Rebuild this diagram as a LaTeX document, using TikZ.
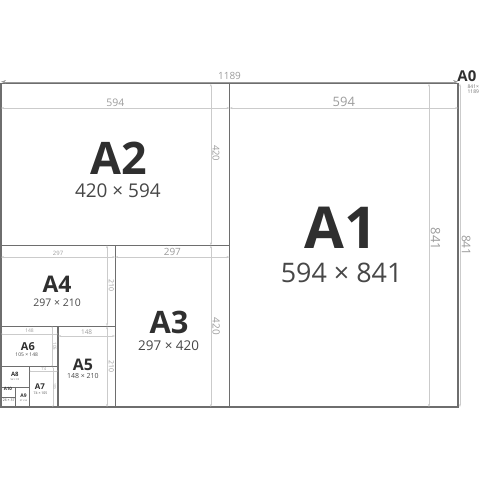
\documentclass[tikz,border=0pt]{standalone}
\usepackage{fontspec}
\setmainfont{Open Sans}
\usetikzlibrary{arrows.meta}

\definecolor{sheetgray}{HTML}{6E6E6E}
\definecolor{dimgray}{HTML}{CBCBCB}
\definecolor{labelgray}{HTML}{9C9C9C}
\definecolor{inkgray}{HTML}{2F2F2F}
\definecolor{sizegray}{HTML}{474747}

\tikzset{
  sheet/.style={draw=sheetgray, line width=1.2pt},
  smallsheet/.style={draw=sheetgray, line width=0.6pt},
  dimline/.style={draw=dimgray, line width=0.45pt, >={Stealth[length=3pt,width=2pt]}},
  smalldim/.style={draw=dimgray, line width=0.3pt, >={Stealth[length=1.5pt,width=1pt]}},
  outerdim/.style={draw=gray!80, line width=0.5pt, >={Stealth[length=5pt,width=3.5pt]}},
  dimlabel/.style={text=labelgray, inner sep=1.5pt, font=\fontsize{#1}{#1}\selectfont},
  sheetname/.style={text=inkgray, inner sep=0pt, font=\bfseries\fontsize{#1}{#1}\selectfont},
  sheetsize/.style={text=sizegray, inner sep=0pt, font=\fontsize{#1}{#1}\selectfont},
}

\begin{document}
\begin{tikzpicture}[x=0.3844bp,y=0.3844bp]
\useasboundingbox (-2.6,-189.9) rectangle (1246.1,1058.8);

% sheets, folded in halves
\draw[sheet] (0,0) rectangle (1189,841);
\draw[sheet] (594.5,0) -- (594.5,841);
\draw[sheet] (0,420.5) -- (594.5,420.5);
\draw[sheet] (297,0) -- (297,420.5);
\draw[sheet] (0,210) -- (297,210);
\draw[sheet] (148.5,0) -- (148.5,210);
\draw[smallsheet] (0,105) -- (148.5,105);
\draw[smallsheet] (74,0) -- (74,105);
\draw[smallsheet] (0,52.5) -- (74,52.5);
\draw[smallsheet] (37,0) -- (37,52.5);
\draw[smallsheet] (0,26) -- (37,26);

% A0 outer dimensions
\draw[outerdim,<->] (0,846) -- node[dimlabel=10,above] (d0h) {1189} (1189,846);
\draw[dimline,<->] (1194,841) -- node[dimlabel=12,midway,rotate=-90,anchor=south] (d0v) {841} (1194,0);
\node[sheetname=15,anchor=west] (a0) at (1187,860) {A0};
\node[sheetsize=5,anchor=north east,align=right,text=labelgray!70!black] (a0s) at (1244,838) {841×\\1189};

% A1
\draw[dimline,<->] (594.5,777.8) -- node[dimlabel=13,above] (d1h) {594} (1189,777.8);
\draw[dimline,<->] (1113.4,841) -- node[dimlabel=13,pos=0.48,rotate=-90,anchor=south] (d1v) {841} (1113.4,0);
\node[sheetname=58] (a1) at (885,466) {A1};
\node[sheetsize=27] (a1s) at (886,350) {594 × 841};

% A2
\draw[dimline,<->] (0,777.8) -- node[dimlabel=10.5,above] (d2h) {594} (594.5,777.8);
\draw[dimline,<->] (546,841) -- node[dimlabel=9.5,pos=0.43,rotate=-90,anchor=south] (d2v) {420} (546,420.5);
\node[sheetname=45] (a2) at (306,646) {A2};
\node[sheetsize=19] (a2s) at (304,563) {420 × 594};

% A3
\draw[dimline,<->] (297,390) -- node[dimlabel=10,above] (d3h) {297} (594.5,390);
\draw[dimline,<->] (546,420.5) -- node[dimlabel=10,midway,rotate=-90,anchor=south] (d3v) {420} (546,0);
\node[sheetname=31] (a3) at (437,220) {A3};
\node[sheetsize=13.5] (a3s) at (436,160) {297 × 420};

% A4
\draw[dimline,<->] (0,390) -- node[dimlabel=6,above] (d4h) {297} (297,390);
\draw[dimline,<->] (275.8,420.5) -- node[dimlabel=7,midway,rotate=-90,anchor=south] (d4v) {210} (275.8,210);
\node[sheetname=23] (a4) at (146,318) {A4};
\node[sheetsize=10.5] (a4s) at (146,272) {297 × 210};

% A5
\draw[dimline,<->] (148.5,184.7) -- node[dimlabel=6.5,above] (d5h) {148} (297,184.7);
\draw[dimline,<->] (275.8,210) -- node[dimlabel=7,midway,rotate=-90,anchor=south] (d5v) {210} (275.8,0);
\node[sheetname=16] (a5) at (213,110) {A5};
\node[sheetsize=7] (a5s) at (213,80) {148 × 210};

% A6
\draw[smalldim,<->] (0,190) -- node[dimlabel=5,above,inner sep=0.8pt] (d6h) {148} (148.5,190);
\draw[smalldim,<->] (132.7,210) -- node[dimlabel=4.5,midway,rotate=-90,anchor=south,inner sep=0.8pt] (d6v) {105} (132.7,105);
\node[sheetname=11] (a6) at (70,158) {A6};
\node[sheetsize=5] (a6s) at (67,137) {105 × 148};

% A7
\draw[smalldim,<->] (74,93.6) -- node[dimlabel=4,above,inner sep=0.6pt] (d7h) {74} (148.5,93.6);
\draw[smalldim,<->] (135,105) -- node[dimlabel=3.5,midway,rotate=-90,anchor=south,inner sep=0.6pt] (d7v) {105} (135,0);
\node[sheetname=8] (a7) at (101,53) {A7};
\node[sheetsize=3.5] (a7s) at (103,35) {74 × 105};

% A8 to A10
\node[sheetname=6] (a8) at (36,85) {A8};
\node[sheetsize=2.5] (a8s) at (36,72) {52 × 74};
\node[sheetname=5] (a9) at (58.5,29) {A9};
\node[sheetsize=2.2] (a9s) at (58.5,17) {37 × 52};
\node[sheetname=4.5] (a10) at (18,46) {A10};
\node[sheetsize=3.5] (a10s) at (20,18) {26 × 37};
\end{tikzpicture}
\end{document}
